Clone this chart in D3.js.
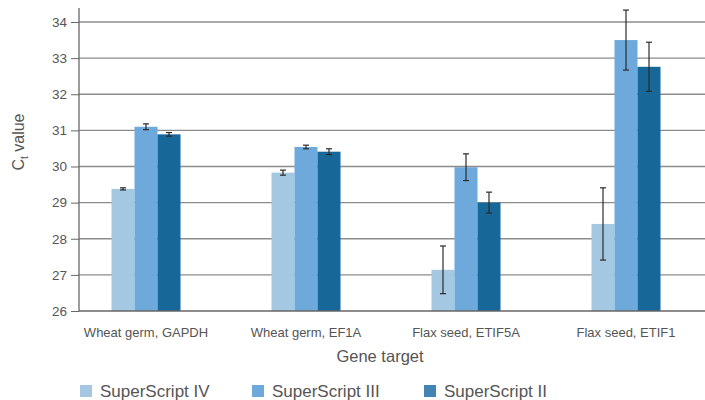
<!DOCTYPE html>
<html>
<head>
<meta charset="utf-8">
<script src="https://cdn.jsdelivr.net/npm/d3@7"></script>
<style>
  body { margin: 0; background: #fff; }
  svg { display: block; font-family: "Liberation Sans", Arial, sans-serif; }
</style>
</head>
<body>
<div id="chart"></div>
<script>
const categories = [
  "Wheat germ, GAPDH",
  "Wheat germ, EF1A",
  "Flax seed, ETIF5A",
  "Flax seed, ETIF1",
];
const seriesNames = ["SuperScript IV", "SuperScript III", "SuperScript II"];
const ssIV = [29.38, 29.83, 27.14, 28.41];
const ssIII = [31.1, 30.54, 29.98, 33.5];
const ssII = [30.89, 30.41, 29.0, 32.76];
const errIV = [0.03, 0.07, 0.66, 1.0];
const errIII = [0.08, 0.05, 0.37, 0.83];
const errII = [0.05, 0.08, 0.29, 0.68];
const yTicks = [26, 27, 28, 29, 30, 31, 32, 33, 34];

const BAR_COLORS = ["#a5c8e2", "#6ea9db", "#176799"];
const SWATCH_COLORS = ["#a5c8e2", "#6ea9db", "#4285b4"];
const TEXT_COLOR = "#555";

const width = 705;
const height = 400;
const plotLeft = 79;
const plotRight = 705;
const plotTop = 22;
const plotBottom = 311;

const seriesValues = [ssIV, ssIII, ssII];
const seriesErrors = [errIV, errIII, errII];

const svg = d3
  .select("#chart")
  .append("svg")
  .attr("width", width)
  .attr("height", height)
  .attr("viewBox", [0, 0, width, height]);

const y = d3.scaleLinear().domain([26, 34]).range([plotBottom, plotTop]);

const x = d3
  .scaleBand()
  .domain(categories)
  .range([66, 706])
  .paddingInner(0)
  .paddingOuter(0);

const xInner = d3
  .scaleBand()
  .domain(seriesNames)
  .range([-34.5, 34.5])
  .padding(0);

// gridlines
svg
  .append("g")
  .selectAll("line")
  .data(yTicks.filter((t) => t !== 26))
  .join("line")
  .attr("x1", plotLeft)
  .attr("x2", plotRight)
  .attr("y1", (d) => y(d))
  .attr("y2", (d) => y(d))
  .attr("stroke", "#8c8c8c")
  .attr("stroke-width", 1.3);

// bars
const groups = svg
  .append("g")
  .selectAll("g")
  .data(categories)
  .join("g")
  .attr("transform", (d) => `translate(${x(d) + x.bandwidth() / 2},0)`);

groups
  .selectAll("rect")
  .data((_, i) =>
    seriesNames.map((name, s) => ({ name, s, value: seriesValues[s][i] }))
  )
  .join("rect")
  .attr("x", (d) => xInner(d.name))
  .attr("width", xInner.bandwidth())
  .attr("y", (d) => y(d.value))
  .attr("height", (d) => y(26) - y(d.value))
  .attr("fill", (d) => BAR_COLORS[d.s]);

// error bars
const errGroups = groups
  .selectAll("g.err")
  .data((_, i) =>
    seriesNames.map((name, s) => ({
      name,
      value: seriesValues[s][i],
      err: seriesErrors[s][i],
    }))
  )
  .join("g")
  .attr("class", "err")
  .attr(
    "transform",
    (d) => `translate(${xInner(d.name) + xInner.bandwidth() / 2},0)`
  )
  .attr("stroke", "#2a2a2a")
  .attr("stroke-width", 1.2);

errGroups
  .append("line")
  .attr("y1", (d) => y(d.value + d.err))
  .attr("y2", (d) => y(d.value - d.err));
errGroups
  .append("line")
  .attr("x1", -3)
  .attr("x2", 3)
  .attr("y1", (d) => y(d.value + d.err))
  .attr("y2", (d) => y(d.value + d.err));
errGroups
  .append("line")
  .attr("x1", -3)
  .attr("x2", 3)
  .attr("y1", (d) => y(d.value - d.err))
  .attr("y2", (d) => y(d.value - d.err));

// y axis
const yAxis = svg
  .append("g")
  .attr("transform", `translate(${plotLeft},0)`)
  .call(d3.axisLeft(y).tickValues(yTicks).tickSize(8).tickPadding(4));
yAxis.select(".domain").remove();
yAxis.selectAll(".tick line").attr("stroke", "#666");
yAxis
  .selectAll(".tick text")
  .attr("fill", TEXT_COLOR)
  .attr("font-size", 13.5)
  .attr("font-family", "Liberation Sans, Arial, sans-serif");

svg
  .append("line")
  .attr("x1", plotLeft)
  .attr("x2", plotLeft)
  .attr("y1", 8)
  .attr("y2", plotBottom)
  .attr("stroke", "#666")
  .attr("stroke-width", 1.3);
svg
  .append("line")
  .attr("x1", plotLeft)
  .attr("x2", plotRight)
  .attr("y1", plotBottom)
  .attr("y2", plotBottom)
  .attr("stroke", "#666")
  .attr("stroke-width", 1.3);

// category labels
svg
  .append("g")
  .selectAll("text")
  .data(categories)
  .join("text")
  .attr("x", (d) => x(d) + x.bandwidth() / 2)
  .attr("y", 337)
  .attr("text-anchor", "middle")
  .attr("fill", TEXT_COLOR)
  .attr("font-size", 13)
  .text((d) => d);

// axis titles
svg
  .append("text")
  .attr("x", 380)
  .attr("y", 362)
  .attr("text-anchor", "middle")
  .attr("fill", TEXT_COLOR)
  .attr("font-size", 16.5)
  .text("Gene target");

const yTitle = svg
  .append("text")
  .attr("transform", "translate(24,142) rotate(-90)")
  .attr("text-anchor", "middle")
  .attr("fill", TEXT_COLOR)
  .attr("font-size", 16);
yTitle.append("tspan").text("C");
yTitle
  .append("tspan")
  .attr("font-size", 10)
  .attr("dy", 4)
  .text("t");
yTitle.append("tspan").attr("dy", -4).text(" value");

// legend
const legendX = d3.scalePoint().domain(seriesNames).range([80, 424]);
const legend = svg
  .append("g")
  .selectAll("g")
  .data(seriesNames)
  .join("g")
  .attr("transform", (d) => `translate(${legendX(d)},385)`);
legend
  .append("rect")
  .attr("width", 12)
  .attr("height", 12)
  .attr("fill", (_, i) => SWATCH_COLORS[i]);
legend
  .append("text")
  .attr("x", 20)
  .attr("y", 11.5)
  .attr("fill", TEXT_COLOR)
  .attr("font-size", 17)
  .text((d) => d);
</script>
</body>
</html>
